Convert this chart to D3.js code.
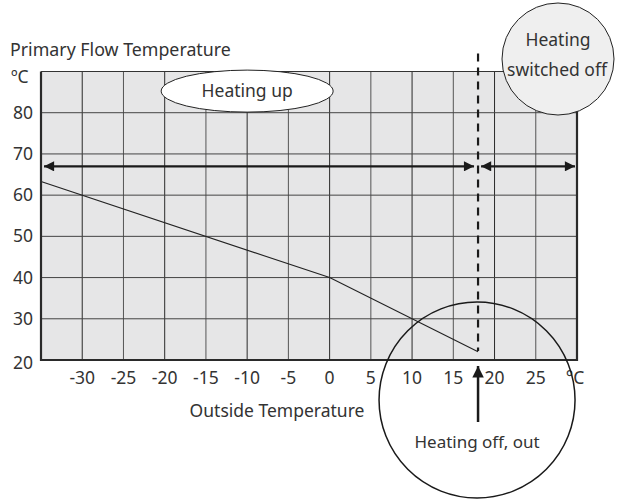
<!DOCTYPE html>
<html>
<head>
<meta charset="utf-8">
<script src="https://cdn.jsdelivr.net/npm/d3@7"></script>
<style>
  body { margin: 0; background: #fff; }
  text { font-family: "Noto Sans", "Open Sans", sans-serif; fill: #333; }
</style>
</head>
<body>
<div id="chart"></div>
<script>
// Data
var xTicks = [-30, -25, -20, -15, -10, -5, 0, 5, 10, 15, 20, 25];
var yTicks = [20, 30, 40, 50, 60, 70, 80];
var curveX = [-35, 0, 18];
var curveY = [63.3, 40, 22];
var switchOffTemp = 18;
var arrowLevel = 67;

var margin = { top: 71.5, right: 45, bottom: 140, left: 41 };
var width = 622 - margin.left - margin.right;
var height = 500 - margin.top - margin.bottom;

var svg = d3.select("#chart").append("svg")
  .attr("width", 622)
  .attr("height", 500);

var defs = svg.append("defs");
defs.append("marker")
  .attr("id", "head")
  .attr("viewBox", "0 0 10 10")
  .attr("refX", 10).attr("refY", 5)
  .attr("markerWidth", 7).attr("markerHeight", 4.6)
  .attr("markerUnits", "strokeWidth")
  .attr("orient", "auto-start-reverse")
  .append("path").attr("d", "M0,0 L10,5 L0,10 z").attr("fill", "#1a1a1a");

var g = svg.append("g")
  .attr("transform", "translate(" + margin.left + "," + margin.top + ")");

var x = d3.scaleLinear().domain([-35, 30]).range([0, width]);
var y = d3.scaleLinear().domain([20, 90]).range([height, 0]);

// plot background
g.append("rect")
  .attr("width", width).attr("height", height)
  .attr("fill", "#e6e6e7");

// grid
g.selectAll(".vgrid").data(xTicks).enter().append("line")
  .attr("x1", function (d) { return x(d); })
  .attr("x2", function (d) { return x(d); })
  .attr("y1", 0).attr("y2", height)
  .attr("stroke", function (d, i) { return i % 2 ? "#555" : "#2a2a2a"; })
  .attr("stroke-width", 1);
g.selectAll(".hgrid").data(yTicks.concat([90])).enter().append("line")
  .attr("x1", 0).attr("x2", width)
  .attr("y1", function (d) { return y(d); })
  .attr("y2", function (d) { return y(d); })
  .attr("stroke", "#444")
  .attr("stroke-width", 1);

// axes labels
g.selectAll(".ylab").data(yTicks).enter().append("text")
  .attr("x", -8)
  .attr("y", function (d) { return y(d); })
  .attr("dy", function (d) { return d === 20 ? "0.5em" : "0.35em"; })
  .attr("text-anchor", "end")
  .style("font-size", "17.5px")
  .text(function (d) { return d; });

g.selectAll(".xlab").data(xTicks).enter().append("text")
  .attr("x", function (d) { return x(d); })
  .attr("y", height + 18)
  .attr("dy", "0.35em")
  .attr("text-anchor", "middle")
  .style("font-size", "17.5px")
  .text(function (d) { return d; });

g.append("text")
  .attr("x", x(30) - 2)
  .attr("y", height + 18)
  .attr("dy", "0.35em")
  .attr("text-anchor", "middle")
  .style("font-size", "17.5px")
  .text("°C");

svg.append("text")
  .attr("x", 10).attr("y", 56)
  .style("font-size", "17.8px")
  .text("Primary Flow Temperature");
svg.append("text")
  .attr("x", 11).attr("y", 83)
  .style("font-size", "17.5px")
  .text("ºC");
svg.append("text")
  .attr("x", 277).attr("y", 417)
  .attr("text-anchor", "middle")
  .style("font-size", "17.5px")
  .text("Outside Temperature");

// heating curve
var pts = curveX.map(function (d, i) { return [d, curveY[i]]; });
g.append("path")
  .datum(pts)
  .attr("fill", "none")
  .attr("stroke", "#222")
  .attr("stroke-width", 1.1)
  .attr("d", d3.line().x(function (d) { return x(d[0]); }).y(function (d) { return y(d[1]); }));

// plot frame
g.append("path")
  .attr("d", "M0,0 V" + height + " H" + width + " V0")
  .attr("fill", "none")
  .attr("stroke", "#2a2a2a")
  .attr("stroke-width", 2.2);
g.append("line")
  .attr("x1", 0).attr("x2", width).attr("y1", 0).attr("y2", 0)
  .attr("stroke", "#333").attr("stroke-width", 1.2);

// double arrows
g.append("line")
  .attr("x1", x(-35) + 3).attr("x2", x(switchOffTemp) - 4)
  .attr("y1", y(arrowLevel)).attr("y2", y(arrowLevel))
  .attr("stroke", "#1a1a1a").attr("stroke-width", 2.2)
  .attr("marker-start", "url(#head)")
  .attr("marker-end", "url(#head)");
g.append("line")
  .attr("x1", x(switchOffTemp) + 3).attr("x2", x(30) - 2)
  .attr("y1", y(arrowLevel)).attr("y2", y(arrowLevel))
  .attr("stroke", "#1a1a1a").attr("stroke-width", 2.2)
  .attr("marker-start", "url(#head)")
  .attr("marker-end", "url(#head)");

// dashed switch-off line
g.append("line")
  .attr("x1", x(switchOffTemp)).attr("x2", x(switchOffTemp))
  .attr("y1", -18).attr("y2", height - 9)
  .attr("stroke", "#1a1a1a").attr("stroke-width", 2.2)
  .attr("stroke-dasharray", "8,6");

// "Heating up" ellipse
g.append("ellipse")
  .attr("cx", x(-10)).attr("cy", y(85) - 1)
  .attr("rx", 86).attr("ry", 21)
  .attr("fill", "#fff").attr("stroke", "#222").attr("stroke-width", 1);
g.append("text")
  .attr("x", x(-10)).attr("y", y(85) - 1)
  .attr("dy", "0.35em")
  .attr("text-anchor", "middle")
  .style("font-size", "17.5px")
  .text("Heating up");

// "Heating switched off" circle
svg.append("circle")
  .attr("cx", 558).attr("cy", 59).attr("r", 56)
  .attr("fill", "#efefef").attr("stroke", "#222").attr("stroke-width", 1);
svg.append("text")
  .attr("x", 558).attr("y", 40).attr("dy", "0.35em")
  .attr("text-anchor", "middle")
  .style("font-size", "17.5px")
  .text("Heating");
svg.append("text")
  .attr("x", 557).attr("y", 70).attr("dy", "0.35em")
  .attr("text-anchor", "middle")
  .style("font-size", "17.5px")
  .text("switched off");

// "Heating off, out" circle
var offX = margin.left + x(switchOffTemp);
svg.append("circle")
  .attr("cx", offX - 1).attr("cy", 400).attr("r", 98)
  .attr("fill", "none").attr("stroke", "#1a1a1a").attr("stroke-width", 1.5);
svg.append("line")
  .attr("x1", offX).attr("x2", offX)
  .attr("y1", 422).attr("y2", 366)
  .attr("stroke", "#1a1a1a").attr("stroke-width", 2.5)
  .attr("marker-end", "url(#head)");
svg.append("text")
  .attr("x", offX - 1).attr("y", 442).attr("dy", "0.35em")
  .attr("text-anchor", "middle")
  .style("font-size", "17px")
  .text("Heating off, out");
</script>
</body>
</html>
